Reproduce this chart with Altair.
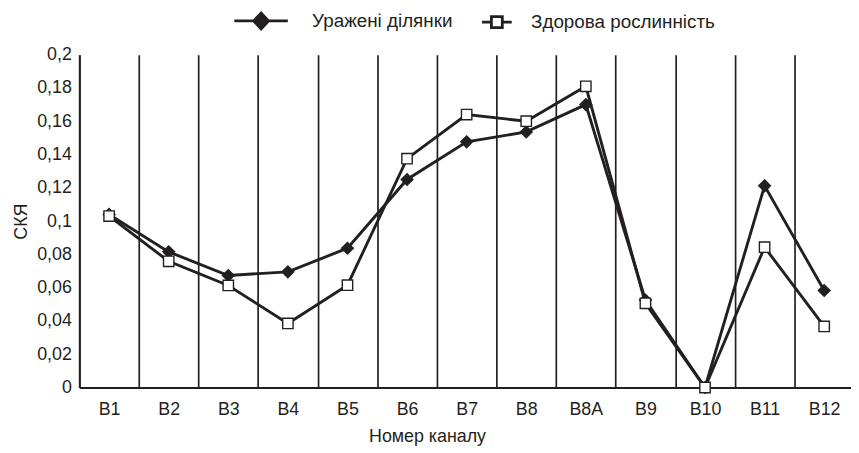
import altair as alt
import pandas as pd

channels = ["B1", "B2", "B3", "B4", "B5", "B6", "B7", "B8", "B8A", "B9", "B10", "B11", "B12"]
affected = [0.104, 0.0815, 0.0673, 0.0695, 0.0837, 0.125, 0.1476, 0.1536, 0.170, 0.0526, 0.0, 0.1212, 0.0583]
healthy = [0.103, 0.0758, 0.0613, 0.0385, 0.0615, 0.1375, 0.164, 0.160, 0.181, 0.0506, 0.0, 0.0843, 0.0367]
series_names = ["Уражені ділянки", "Здорова рослинність"]
y_ticks = [0, 0.02, 0.04, 0.06, 0.08, 0.1, 0.12, 0.14, 0.16, 0.18, 0.2]

ink = "#231f20"
font = "Liberation Sans"

df = pd.DataFrame({
    "channel": channels * 2,
    "value": affected + healthy,
    "series": [series_names[0]] * len(channels) + [series_names[1]] * len(channels),
})

x_enc = alt.X(
    "channel:N",
    sort=channels,
    scale=alt.Scale(type="band", domain=channels, range=[0, 782], paddingInner=0, paddingOuter=0),
    axis=alt.Axis(
        title="Номер каналу", tickBand="extent", grid=True, ticks=False, labelAngle=0,
        gridColor=ink, gridWidth=1.7, gridOpacity=1, domainColor=ink, domainWidth=2,
        labelPadding=13, titlePadding=10, titleX=351,
    ),
)
y_enc = alt.Y(
    "value:Q",
    scale=alt.Scale(domain=[0, 0.2], nice=False),
    axis=alt.Axis(
        title="СКЯ", values=y_ticks, grid=False, ticks=False, domainColor=ink, domainWidth=2,
        labelExpr="replace(format(datum.value, '~g'), '.', ',')", labelPadding=8, titlePadding=6,
    ),
)

base = alt.Chart(df).encode(x=x_enc, y=y_enc)

lines = base.mark_line(color=ink, strokeWidth=2.9).encode(detail="series:N")
diamonds = base.transform_filter(alt.datum.series == series_names[0]).mark_point(
    shape="diamond", filled=True, fill=ink, color=ink, size=190, opacity=1
)
squares = base.transform_filter(alt.datum.series == series_names[1]).mark_point(
    shape="square", filled=True, fill="white", stroke=ink, strokeWidth=1.4, size=110, opacity=1
)

path_affected = "M-5.4,0H-1.5M1.5,0H5.4M0,-1.6L1.5,0L0,1.6L-1.5,0Z"
path_healthy = "M0.4,0H2.3M4.5,0H6.4M2.3,-1.1H4.5V1.1H2.3Z"

leg = alt.Legend(
    title=None, orient="none", legendX=174, legendY=-44, direction="horizontal",
    labelFontSize=19, labelColor=ink, labelFont=font, labelLimit=400, symbolStrokeWidth=2.8,
    symbolStrokeColor=ink, symbolSize=100, labelOffset=42, columnPadding=18,
)
legend_layer = alt.Chart(df).transform_filter("false").mark_point(
    filled=True, size=100, strokeWidth=2.8, opacity=1
).encode(
    shape=alt.Shape("series:N", scale=alt.Scale(domain=series_names, range=[path_affected, path_healthy]), legend=leg),
    fill=alt.Fill("series:N", scale=alt.Scale(domain=series_names, range=[ink, "white"]), legend=leg),
    stroke=alt.Stroke("series:N", scale=alt.Scale(domain=series_names, range=[ink, ink]), legend=leg),
)

chart = alt.layer(lines, diamonds, squares, legend_layer).properties(
    width=779, height=336,
    autosize=alt.AutoSizeParams(type="none"),
    padding={"left": 72, "top": 45, "right": 0, "bottom": 62},
    background="white",
).configure_view(stroke=None).configure_axis(
    labelFont=font, titleFont=font, labelFontSize=18, titleFontSize=18,
    labelColor=ink, titleColor=ink, titleFontWeight="normal",
)

chart.save("out.html", embed_options={"renderer": "svg", "actions": False})
